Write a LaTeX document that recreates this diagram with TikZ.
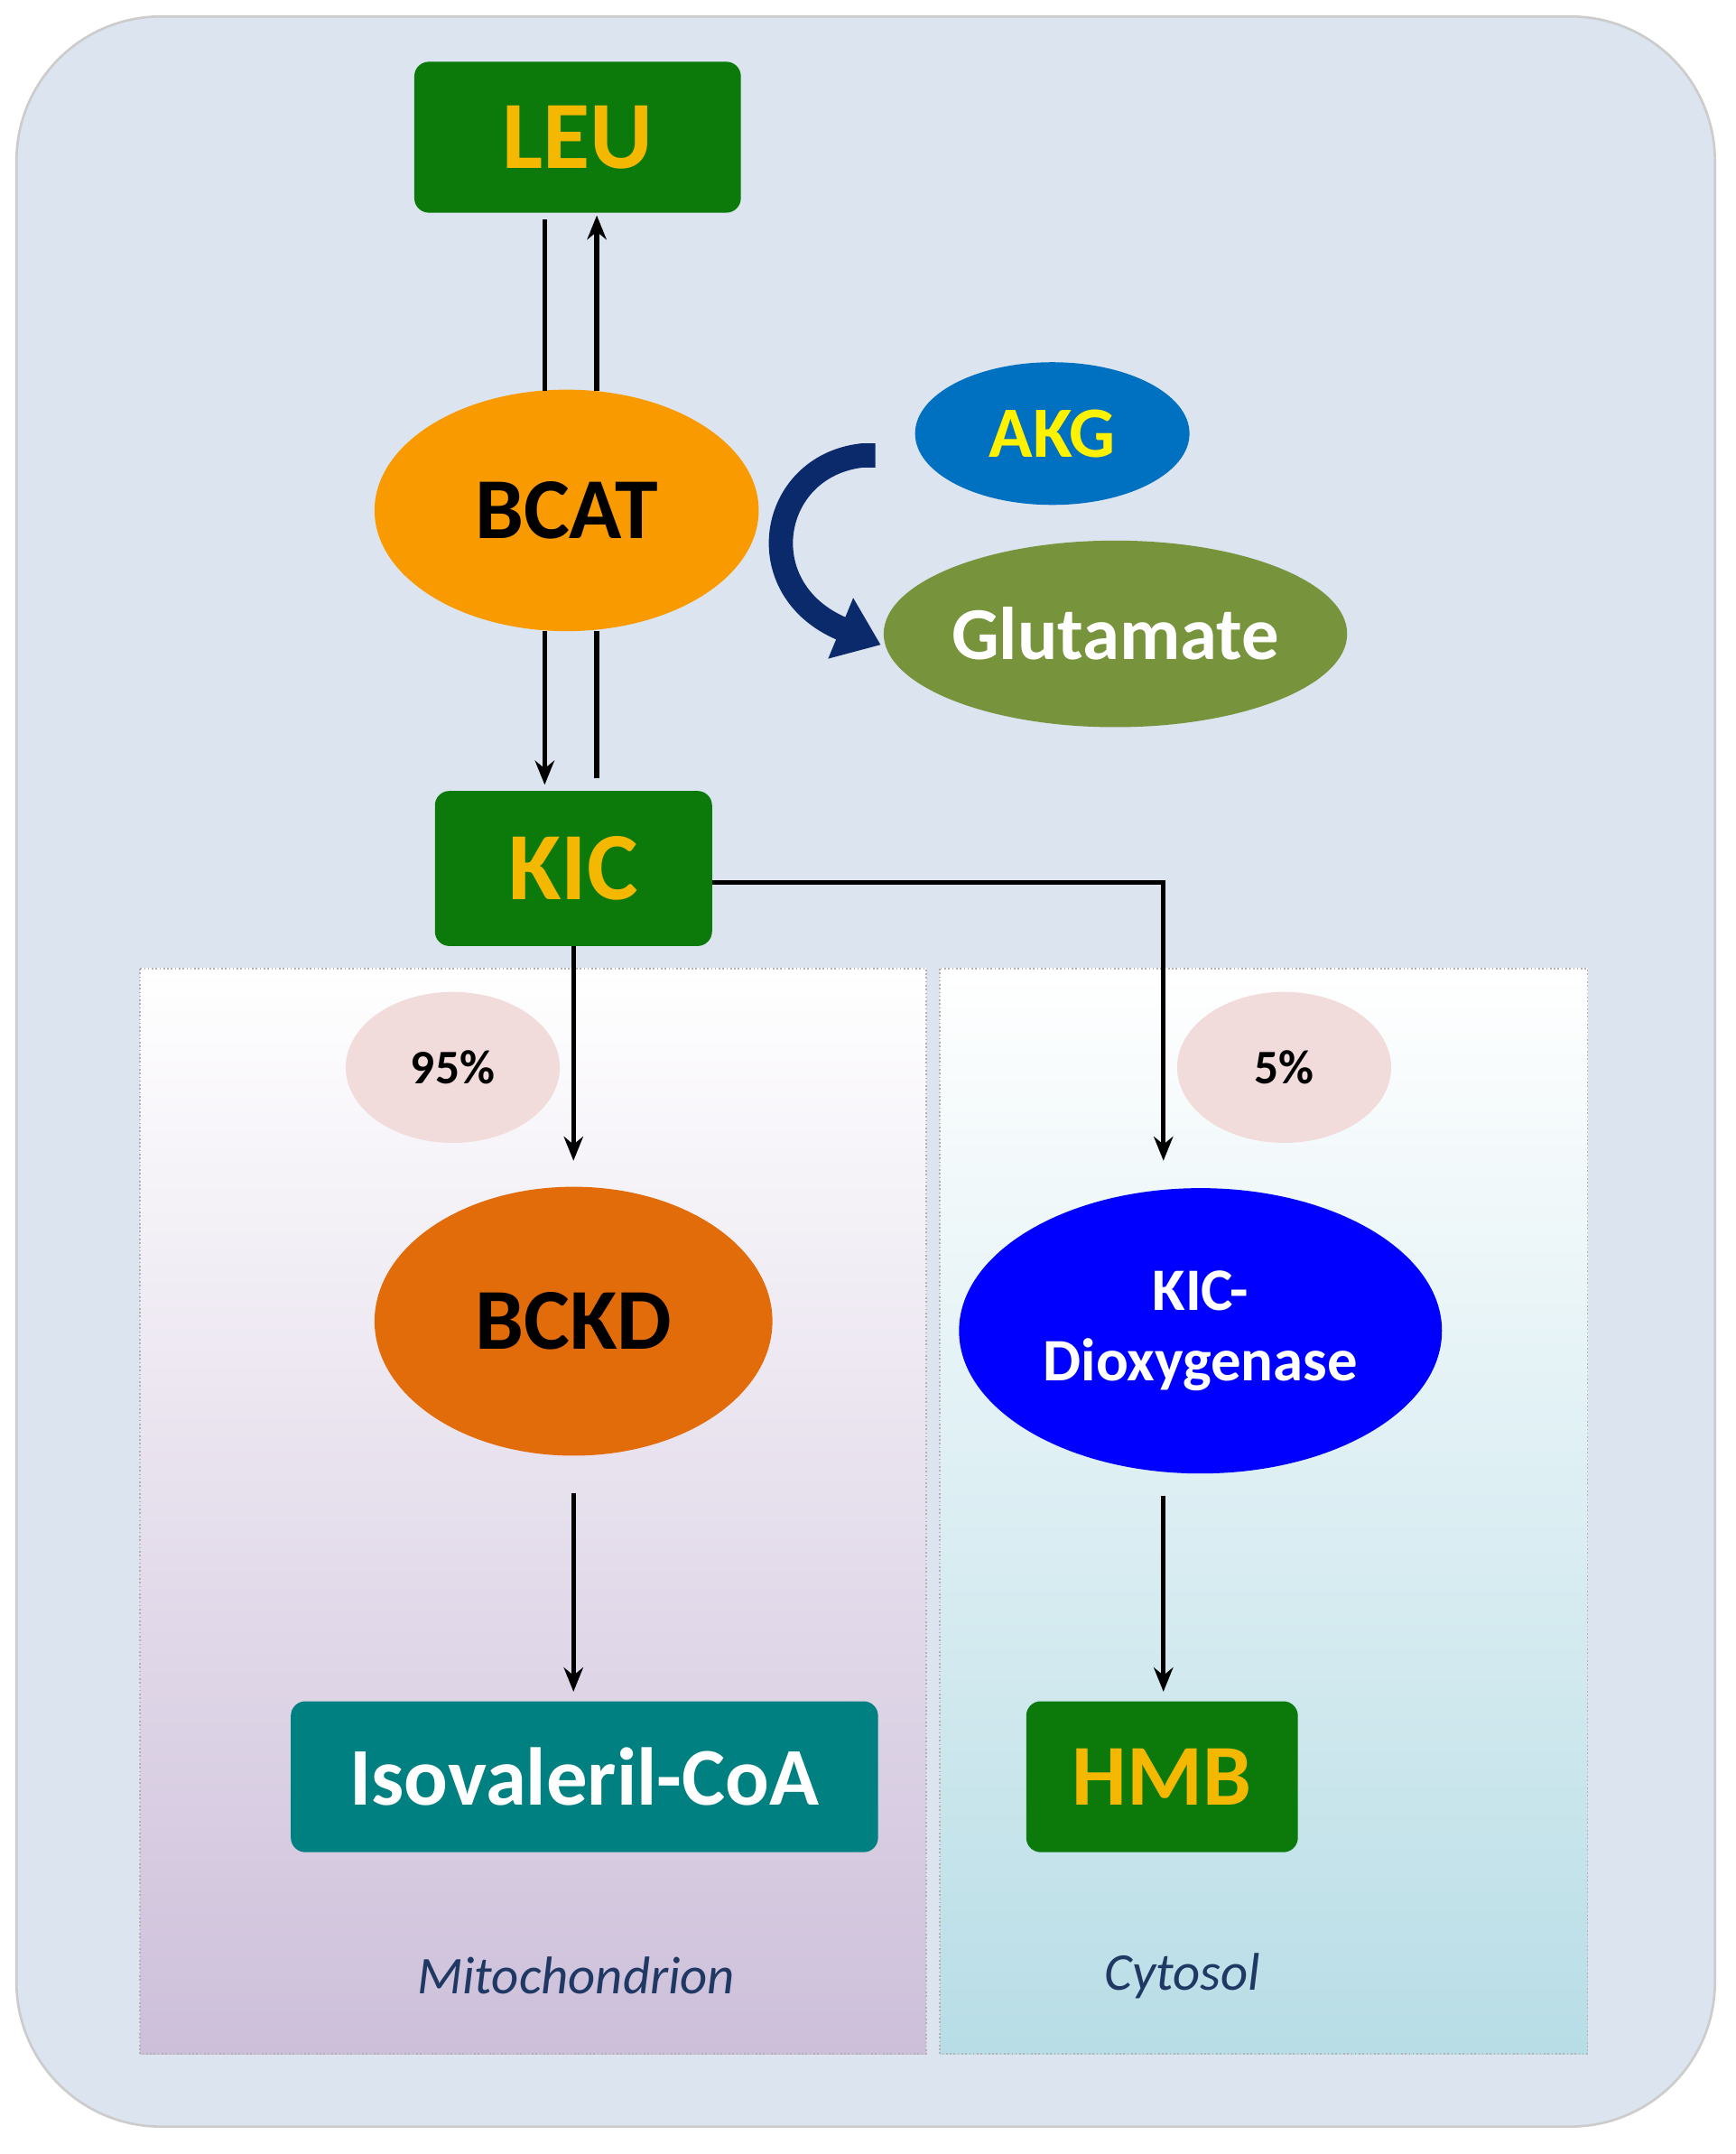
\documentclass[tikz,border=0pt]{standalone}
\usepackage{fontspec}
\setmainfont{Carlito}
\usetikzlibrary{arrows.meta,shapes.geometric}
\definecolor{bgc}{HTML}{DCE4F0}
\definecolor{grn}{HTML}{0B7A0B}
\definecolor{ylw}{HTML}{F5B800}
\definecolor{org}{HTML}{F99B00}
\definecolor{akg}{HTML}{0070C0}
\definecolor{olv}{HTML}{77933C}
\definecolor{pnk}{HTML}{F2DCDB}
\definecolor{bckd}{HTML}{E36C0A}
\definecolor{teal2}{HTML}{008080}
\definecolor{navy}{HTML}{0A2A6B}
\definecolor{lbl}{HTML}{1F3864}
\definecolor{mito}{HTML}{CDBFDA}
\definecolor{cyto}{HTML}{B8DDE6}
\begin{document}
\begin{tikzpicture}[x=0.02cm,y=-0.02cm,
  fs/.style={font=\fontsize{#1}{#1}\selectfont\bfseries},
  box/.style={fill=grn,rounded corners=6pt,inner sep=0pt},
  ell/.style={ellipse,inner sep=0pt},
  arr/.style={line width=2pt,-{Stealth[length=10pt,width=8pt]}},
  ln/.style={line width=2pt},
  panel/.style={draw=gray!60,densely dotted,line width=0.6pt}]
\useasboundingbox (0,0) rectangle (1265,1570);
\fill[white] (0,0) rectangle (1265,1570);
\draw[fill=bgc,draw=gray!40,line width=1pt,rounded corners=60pt] (12,12) rectangle (1250,1550);
\shade[top color=white,bottom color=mito] (102,706) rectangle (675,1497);
\draw[panel] (102,706) rectangle (675,1497);
\shade[top color=white,bottom color=cyto] (685,706) rectangle (1157,1497);
\draw[panel] (685,706) rectangle (1157,1497);

\node[box,minimum width=238*0.02cm,minimum height=110*0.02cm,text=ylw,fs=40] (leu) at (421,100) {LEU};
\node[ell,fill=org,minimum width=280*0.02cm,minimum height=176*0.02cm,fs=36] (bcat) at (413,372) {BCAT};
\node[box,minimum width=202*0.02cm,minimum height=113*0.02cm,text=ylw,fs=40] (kic) at (418,633) {KIC};
\node[ell,fill=akg,minimum width=200*0.02cm,minimum height=104*0.02cm,text=yellow,fs=30] (akg) at (767,316) {AKG};
\node[ell,fill=olv,minimum width=316*0.02cm,minimum height=136*0.02cm,text=white,fs=31] (glu) at (813,462) {Glutamate};
\node[ell,fill=pnk,minimum width=156*0.02cm,minimum height=110*0.02cm,fs=20] (p95) at (330,778) {95\%};
\node[ell,fill=pnk,minimum width=156*0.02cm,minimum height=110*0.02cm,fs=20] (p5) at (936,778) {5\%};
\node[ell,fill=bckd,minimum width=290*0.02cm,minimum height=196*0.02cm,fs=36] (bckd) at (418,963) {BCKD};
\node[ell,fill=blue,minimum width=352*0.02cm,minimum height=208*0.02cm,text=white,fs=25,align=center] (dio) at (875,970) {KIC-\\[4pt]Dioxygenase};
\node[box,fill=teal2,minimum width=428*0.02cm,minimum height=110*0.02cm,text=white,fs=34] (iso) at (426,1295) {Isovaleril-CoA};
\node[box,minimum width=198*0.02cm,minimum height=110*0.02cm,text=ylw,fs=36] (hmb) at (847,1295) {HMB};
\node[text=lbl,font=\fontsize{22}{22}\selectfont\itshape] (mt) at (420,1440) {Mitochondrion};
\node[text=lbl,font=\fontsize{22}{22}\selectfont\itshape] (ct) at (862,1440) {Cytosol};

\coordinate (a1) at (397,160); \coordinate (a2) at (397,285);
\coordinate (b1) at (435,285); \coordinate (b2) at (435,157);
\coordinate (c1) at (397,460); \coordinate (c2) at (397,572);
\coordinate (d1) at (435,567); \coordinate (d2) at (435,460);
\draw[ln] (a1) -- (a2);
\draw[arr] (b1) -- (b2);
\draw[arr] (c1) -- (c2);
\draw[ln] (d1) -- (d2);
\draw[arr] (kic.south) -- (418,846);
\coordinate (k1) at (519,643);
\draw[arr] (k1) -- (848,643) -- (848,846);
\coordinate (e1) at (418,1088); \coordinate (e2) at (418,1233);
\coordinate (f1) at (848,1090); \coordinate (f2) at (848,1233);
\draw[arr] (e1) -- (e2);
\draw[arr] (f1) -- (f2);
\coordinate (g1) at (638,332); \coordinate (g2) at (642,470);
\draw[navy,line width=10pt,-{Triangle[length=18pt,width=26pt]}] (g1) -- (628,332) .. controls (560,340) and (545,430) .. (g2);
\end{tikzpicture}
\end{document}
